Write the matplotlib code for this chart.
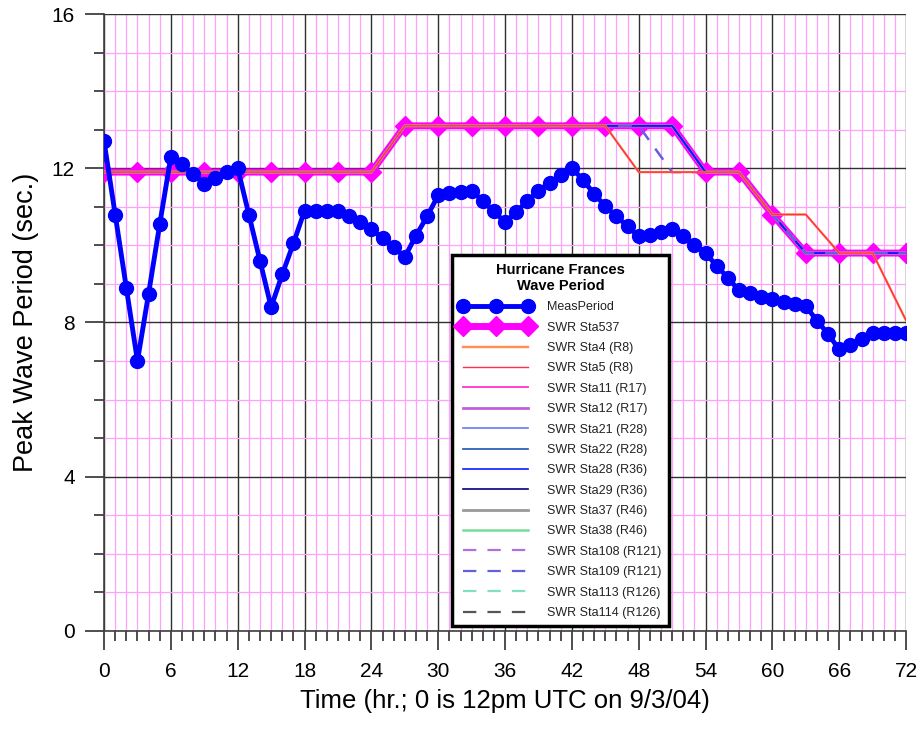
import matplotlib.pyplot as plt
from matplotlib.ticker import MultipleLocator

plt.rcParams['font.family'] = ['Liberation Sans', 'DejaVu Sans']

# measured peak period, hourly
hours_meas = list(range(73))
meas_period = [12.7, 10.8, 8.9, 7.0, 8.75, 10.55, 12.3, 12.1, 11.85, 11.6,
               11.75, 11.9, 12.0, 10.8, 9.6, 8.4, 9.25, 10.05, 10.9, 10.9,
               10.9, 10.9, 10.75, 10.6, 10.42, 10.18, 9.95, 9.7, 10.25, 10.75,
               11.3, 11.35, 11.38, 11.42, 11.15, 10.88, 10.6, 10.87, 11.15, 11.42,
               11.62, 11.82, 12.0, 11.7, 11.33, 11.02, 10.75, 10.5, 10.23, 10.28,
               10.35, 10.43, 10.23, 10.02, 9.8, 9.47, 9.16, 8.83, 8.76, 8.67,
               8.6, 8.53, 8.48, 8.42, 8.05, 7.7, 7.3, 7.42, 7.57, 7.72,
               7.72, 7.72, 7.72]

# SWR model output, every 3 hours
hours_swr = [0, 3, 6, 9, 12, 15, 18, 21, 24, 27, 30, 33, 36, 39, 42, 45, 48,
             51, 54, 57, 60, 63, 66, 69, 72]
sta537 = [11.9, 11.9, 11.9, 11.9, 11.9, 11.9, 11.9, 11.9, 11.9,
          13.1, 13.1, 13.1, 13.1, 13.1, 13.1, 13.1, 13.1, 13.1,
          11.9, 11.9, 10.8, 9.8, 9.8, 9.8, 9.8]
sta_r8 = [11.9, 11.9, 11.9, 11.9, 11.9, 11.9, 11.9, 11.9, 11.9,
          13.1, 13.1, 13.1, 13.1, 13.1, 13.1, 13.1, 11.9, 11.9,
          11.9, 11.9, 10.8, 10.8, 9.8, 9.8, 8.05]
sta_r121 = [11.9, 11.9, 11.9, 11.9, 11.9, 11.9, 11.9, 11.9, 11.9,
            13.1, 13.1, 13.1, 13.1, 13.1, 13.1, 13.1, 13.1, 11.9,
            11.9, 11.9, 10.8, 9.8, 9.8, 9.8, 9.8]

stations = [
    ('SWR Sta4 (R8)', sta_r8, '#ff9050', 1.7, '-', 9),
    ('SWR Sta5 (R8)', sta_r8, '#ff3048', 1.0, '-', 10),
    ('SWR Sta11 (R17)', sta537, '#ff33cc', 1.3, '-', 5),
    ('SWR Sta12 (R17)', sta537, '#c060dd', 2.0, '-', 5),
    ('SWR Sta21 (R28)', sta537, '#6677ff', 1.2, '-', 6),
    ('SWR Sta22 (R28)', sta537, '#2050b0', 1.2, '-', 6),
    ('SWR Sta28 (R36)', sta537, '#0a1aff', 1.2, '-', 7),
    ('SWR Sta29 (R36)', sta537, '#000080', 1.2, '-', 5),
    ('SWR Sta37 (R46)', sta537, '#999999', 2.0, '-', 4),
    ('SWR Sta38 (R46)', sta537, '#77dd99', 1.8, '-', 4),
    ('SWR Sta108 (R121)', sta_r121, '#b070e0', 1.6, (0, (6, 5)), 8),
    ('SWR Sta109 (R121)', sta_r121, '#6060e0', 1.6, (0, (6, 5)), 8),
    ('SWR Sta113 (R126)', sta537, '#80e0c0', 1.6, (0, (6, 5)), 4),
    ('SWR Sta114 (R126)', sta537, '#555555', 1.6, (0, (6, 5)), 4),
]

fig = plt.figure(figsize=(9.24, 7.33), dpi=100)
ax = fig.add_axes([0.1126, 0.1392, 0.868, 0.8417])

ax.plot(hours_meas, meas_period, color='#0000ff', lw=3.5, marker='o', ms=10,
        label='MeasPeriod', zorder=12)
ax.plot(hours_swr, sta537, color='#ff00ff', lw=5, marker='D', ms=10,
        label='SWR Sta537', zorder=3)
for name, vals, col, lw, ls, z in stations:
    ax.plot(hours_swr, vals, color=col, lw=lw, ls=ls, label=name, zorder=z)

ax.set_xlim(0, 72)
ax.set_ylim(0, 16)
ax.xaxis.set_major_locator(MultipleLocator(6))
ax.xaxis.set_minor_locator(MultipleLocator(1))
ax.yaxis.set_major_locator(MultipleLocator(4))
ax.yaxis.set_minor_locator(MultipleLocator(1))

ax.grid(which='minor', color='#ffa0ff', lw=0.9, zorder=0)
ax.grid(which='major', color='#303030', lw=1.0, zorder=1)
ax.set_axisbelow(True)

for s in ['top', 'right']:
    ax.spines[s].set_visible(False)
for s in ['left', 'bottom']:
    ax.spines[s].set_color('#404040')
    ax.spines[s].set_linewidth(1.2)

ax.tick_params(which='major', direction='out', length=14, width=1.2,
               color='#303030', labelsize=15)
ax.tick_params(which='minor', direction='out', length=7, width=1.2,
               color='#303030')
ax.tick_params(axis='x', which='major', pad=8)
ax.tick_params(axis='y', which='major', pad=7)

ax.set_xlabel('Time (hr.; 0 is 12pm UTC on 9/3/04)', fontsize=18.5, labelpad=6)
ax.set_ylabel('Peak Wave Period (sec.)', fontsize=19.5, labelpad=9)

leg = ax.legend(loc='upper left', bbox_to_anchor=(0.434, 0.609),
                borderaxespad=0, title='Hurricane Frances\nWave Period',
                fontsize=9, numpoints=3, handlelength=5.8, handletextpad=1.2,
                labelspacing=0.67, borderpad=0.6, fancybox=False,
                framealpha=1, edgecolor='black')
leg.get_frame().set_linewidth(2.5)
leg.get_title().set_fontweight('bold')
leg.get_title().set_fontsize(10.5)
leg.get_title().set_multialignment('center')
leg.set_zorder(20)
for t in leg.get_texts():
    t.set_color('#222222')

fig.savefig('out.png', dpi=100)
